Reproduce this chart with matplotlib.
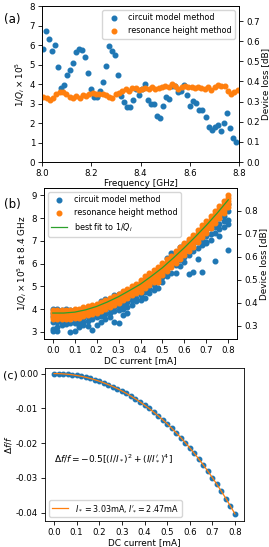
import numpy as np
import matplotlib
matplotlib.use('Agg')
import matplotlib.pyplot as plt

plt.rcParams['font.size'] = 6.4
plt.rcParams['xtick.labelsize'] = 6.2
plt.rcParams['ytick.labelsize'] = 6.2
plt.rcParams['axes.linewidth'] = 0.6
plt.rcParams['xtick.major.size'] = 3
plt.rcParams['ytick.major.size'] = 3
plt.rcParams['xtick.major.width'] = 0.6
plt.rcParams['ytick.major.width'] = 0.6
plt.rcParams['xtick.major.pad'] = 2
plt.rcParams['ytick.major.pad'] = 2
plt.rcParams['legend.fontsize'] = 5.8

# --- panel (a): loss vs frequency ---
freq_circuit = np.linspace(8.005, 8.786, 65)
circuit_a = [5.79, 6.73, 6.32, 5.68, 5.98, 4.88, 3.77, 3.96, 4.45, 4.71,
             5.09, 5.62, 5.79, 5.74, 5.36, 4.55, 3.72, 3.34, 3.34, 3.65,
             4.08, 4.93, 5.94, 5.70, 5.48, 4.45, 3.37, 3.08, 2.83, 2.83,
             3.18, 3.75, 3.44, 3.73, 4.00, 3.18, 3.00, 2.98, 2.38, 2.28,
             2.86, 3.32, 3.24, 3.92, 3.88, 3.58, 3.65, 3.94, 3.42, 2.86,
             3.15, 3.05, 2.67, 2.65, 2.31, 1.80, 1.66, 1.78, 1.90, 1.59,
             2.02, 2.53, 1.76, 1.25, 1.03]
freq_res = np.linspace(8.005, 8.795, 60)
res_a = [0.323, 0.320, 0.307, 0.320, 0.340, 0.348, 0.347, 0.337, 0.323, 0.318,
         0.327, 0.320, 0.332, 0.327, 0.337, 0.345, 0.340, 0.337, 0.340, 0.333,
         0.323, 0.320, 0.340, 0.345, 0.353, 0.360, 0.353, 0.365, 0.368, 0.357,
         0.360, 0.365, 0.362, 0.370, 0.360, 0.365, 0.373, 0.376, 0.370, 0.386,
         0.376, 0.360, 0.370, 0.376, 0.370, 0.370, 0.365, 0.373, 0.368, 0.360,
         0.373, 0.357, 0.370, 0.381, 0.376, 0.376, 0.353, 0.340, 0.348, 0.357]

# --- panel (b): loss vs DC current at 8.4 GHz ---
current_b = np.linspace(0.0, 0.8, 41)
circuit_b = [
    [4.02, 3.85, 3.70, 3.45, 3.15, 3.02],
    [4.00, 3.82, 3.60, 3.42, 3.20, 3.05],
    [3.98, 3.80, 3.62, 3.45, 3.30],
    [4.00, 3.85, 3.65, 3.50, 3.35],
    [3.98, 3.80, 3.60, 3.40, 3.00],
    [3.95, 3.75, 3.55, 3.40, 3.02],
    [3.90, 3.70, 3.50, 3.30, 3.20],
    [4.00, 3.80, 3.60, 3.45, 3.30],
    [4.10, 3.90, 3.70, 3.50, 3.25],
    [4.10, 3.92, 3.75, 3.55, 3.10],
    [4.10, 3.95, 3.80, 3.65, 3.30],
    [4.35, 4.10, 3.90, 3.70, 3.45],
    [4.45, 4.20, 3.98, 3.80, 3.55],
    [4.45, 4.25, 4.05, 3.85, 3.65],
    [4.60, 4.35, 4.10, 3.90, 3.45],
    [4.65, 4.40, 4.15, 3.95, 3.40],
    [4.60, 4.40, 4.20, 4.00, 3.75],
    [4.75, 4.55, 4.30, 4.10, 3.85],
    [4.85, 4.60, 4.40, 4.20],
    [5.00, 4.70, 4.50, 4.35],
    [5.15, 4.90, 4.60, 4.40],
    [5.30, 5.00, 4.75, 4.50],
    [5.45, 5.20, 4.90, 4.70],
    [5.60, 5.35, 5.05, 4.85],
    [5.75, 5.50, 5.20, 4.95],
    [5.90, 5.65, 5.40, 5.20],
    [6.25, 5.90, 5.65, 5.45],
    [6.45, 6.15, 5.90, 5.60],
    [6.50, 6.20, 5.95, 5.60],
    [6.75, 6.45, 6.15, 5.90],
    [6.85, 6.60, 6.30, 6.05],
    [7.00, 6.70, 6.40, 5.55],
    [7.10, 6.85, 6.55, 5.62],
    [7.20, 6.95, 6.70, 6.20],
    [7.35, 7.05, 6.80, 5.65],
    [7.50, 7.20, 6.95, 6.90],
    [7.80, 7.55, 7.30, 7.05],
    [7.90, 7.60, 7.35, 6.12],
    [8.00, 7.75, 7.50, 7.20],
    [8.10, 7.85, 7.60],
    [8.60, 8.30, 7.90, 7.75, 6.60],
]
res_b = [
    [0.328, 0.339, 0.350, 0.359, 0.367],
    [0.328, 0.339, 0.350, 0.359, 0.367],
    [0.328, 0.339, 0.350, 0.359, 0.367],
    [0.329, 0.340, 0.351, 0.360, 0.368],
    [0.330, 0.341, 0.352, 0.361, 0.369],
    [0.332, 0.343, 0.354, 0.363, 0.371],
    [0.335, 0.346, 0.357, 0.366, 0.374],
    [0.340, 0.351, 0.362, 0.371, 0.379],
    [0.345, 0.356, 0.367, 0.376, 0.384],
    [0.351, 0.362, 0.373, 0.382, 0.390],
    [0.357, 0.368, 0.379, 0.388, 0.396],
    [0.365, 0.376, 0.387, 0.396, 0.404],
    [0.373, 0.384, 0.395, 0.404, 0.412],
    [0.382, 0.393, 0.404, 0.413, 0.421],
    [0.391, 0.402, 0.413, 0.422, 0.430],
    [0.399, 0.410, 0.421, 0.430, 0.438],
    [0.410, 0.421, 0.432, 0.441, 0.449],
    [0.421, 0.432, 0.443, 0.452, 0.460],
    [0.432, 0.443, 0.454, 0.463, 0.471],
    [0.443, 0.454, 0.465, 0.474, 0.482],
    [0.448, 0.462, 0.476, 0.488, 0.500],
    [0.462, 0.476, 0.490, 0.502, 0.514],
    [0.476, 0.490, 0.504, 0.516, 0.528],
    [0.489, 0.503, 0.517, 0.529, 0.541],
    [0.490, 0.504, 0.518, 0.532, 0.544, 0.556],
    [0.519, 0.533, 0.547, 0.559, 0.571],
    [0.536, 0.550, 0.564, 0.576, 0.588],
    [0.553, 0.567, 0.581, 0.593, 0.605],
    [0.571, 0.585, 0.599, 0.611, 0.623],
    [0.588, 0.602, 0.616, 0.628, 0.640],
    [0.606, 0.620, 0.634, 0.646, 0.658],
    [0.625, 0.639, 0.653, 0.665, 0.677],
    [0.644, 0.658, 0.672, 0.684, 0.696],
    [0.664, 0.678, 0.692, 0.704, 0.716],
    [0.684, 0.698, 0.712, 0.724, 0.736],
    [0.703, 0.717, 0.731, 0.743, 0.755],
    [0.725, 0.739, 0.753, 0.765, 0.777],
    [0.746, 0.760, 0.774, 0.786, 0.798],
    [0.768, 0.782, 0.796, 0.808, 0.820],
    [0.790, 0.804, 0.818, 0.830, 0.842],
    [0.814, 0.828, 0.842, 0.854, 0.866],
]
fit_current_b = np.linspace(0.0, 0.8, 17)
fit_b = [3.83, 3.83, 3.87, 3.97, 4.12, 4.32, 4.55, 4.82, 5.10,
         5.45, 5.82, 6.25, 6.70, 7.18, 7.68, 8.22, 8.80]

# --- panel (c): frequency shift vs DC current ---
current_c = np.linspace(0.0, 0.8, 41)
dfdf_c = [0.0, -0.00002, -0.00009, -0.00020, -0.00035, -0.00055, -0.00079,
          -0.00107, -0.00140, -0.00178, -0.00220, -0.00267, -0.00318, -0.00374,
          -0.00435, -0.00501, -0.00572, -0.00648, -0.00728, -0.00814, -0.00906,
          -0.01002, -0.01105, -0.01213, -0.01326, -0.01445, -0.01571, -0.01702,
          -0.01840, -0.01984, -0.02135, -0.02292, -0.02456, -0.02627, -0.02805,
          -0.02991, -0.03184, -0.03385, -0.03594, -0.03811, -0.04036]

W, H = 269, 547
fig = plt.figure(figsize=(W / 100, H / 100), dpi=100)

def box(l, r, t, b):
    return [l / W, 1 - b / H, (r - l) / W, (b - t) / H]

# (a)
ax = fig.add_axes(box(42, 239, 6, 162))
h1 = ax.scatter(freq_circuit, circuit_a, s=11, color='C0', label='circuit model method')
ax.set_xlim(8.0, 8.8)
ax.set_ylim(0, 8)
ax.set_xticks([8.0, 8.2, 8.4, 8.6, 8.8])
ax.set_xlabel('Frequency [GHz]', labelpad=0.5)
ax.set_ylabel(r'$1/Q_i\times10^5$', labelpad=1.5)
ax2 = ax.twinx()
h2 = ax2.scatter(freq_res, res_a, s=11, color='C1', label='resonance height method')
ax2.set_ylim(0, 0.7746)
ax2.set_yticks(np.arange(0, 0.75, 0.1))
ax2.set_ylabel('Device loss [dB]', labelpad=1)
ax2.legend(handles=[h1, h2], loc='upper right')
fig.text(4 / W, 1 - 19 / H, '(a)', fontsize=8.5, va='center')

# (b)
bx = fig.add_axes(box(44, 237, 188, 339))
xb = [i for i, col in zip(current_b, circuit_b) for _ in col]
yb = [v for col in circuit_b for v in col]
g1 = bx.scatter(xb, yb, s=11, color='C0', label='circuit model method')
bx.set_xlim(-0.04, 0.84)
bx.set_ylim(2.69, 9.32)
bx.set_xticks(np.arange(0, 0.81, 0.1))
bx.set_xlabel('DC current [mA]', labelpad=0.5)
bx.set_ylabel(r'$1/Q_i\times10^5$ at 8.4 GHz', labelpad=1.5)
bx2 = bx.twinx()
xr = [i for i, col in zip(current_b, res_b) for _ in col]
yr = [v for col in res_b for v in col]
g2 = bx2.scatter(xr, yr, s=11, color='C1', label='resonance height method')
g3, = bx2.plot(fit_current_b, fit_b, color='C2', lw=0.9, transform=bx.transData,
               label=r'best fit to $1/Q_i$')
bx2.set_ylim(0.242, 0.8986)
bx2.set_yticks([0.3, 0.4, 0.5, 0.6, 0.7, 0.8])
bx2.set_ylabel('Device loss [dB]', labelpad=1)
bx2.legend(handles=[g1, g2, g3], loc='upper left')
fig.text(4 / W, 1 - 204 / H, '(b)', fontsize=8.5, va='center')

# (c)
cx = fig.add_axes(box(45, 244, 368, 521))
cx.plot(current_c, dfdf_c, 'o', ms=3.2, color='C0')
cx.plot(current_c, dfdf_c, '-', lw=0.9, color='C1',
        label=r"$I_*=3.03$mA, $I_*^{\prime}=2.47$mA")
cx.set_xlim(-0.04, 0.84)
cx.set_ylim(-0.0424, 0.0016)
cx.set_xticks(np.arange(0, 0.81, 0.1))
cx.set_yticks([0.0, -0.01, -0.02, -0.03, -0.04])
cx.yaxis.set_major_formatter(matplotlib.ticker.FormatStrFormatter('%.2f'))
cx.set_xlabel('DC current [mA]', labelpad=0.5)
cx.set_ylabel(r'$\Delta f/f$', labelpad=1.5)
cx.text(0.045, 0.41, r"$\Delta f/f=-0.5[(I/I_*)^2+(I/I_*^{\prime})^4]$",
        transform=cx.transAxes, fontsize=6.5, va='center')
cx.legend(loc='lower left')
fig.text(3 / W, 1 - 376 / H, '(c)', fontsize=8, va='center')

fig.savefig('out.png', dpi=100)
